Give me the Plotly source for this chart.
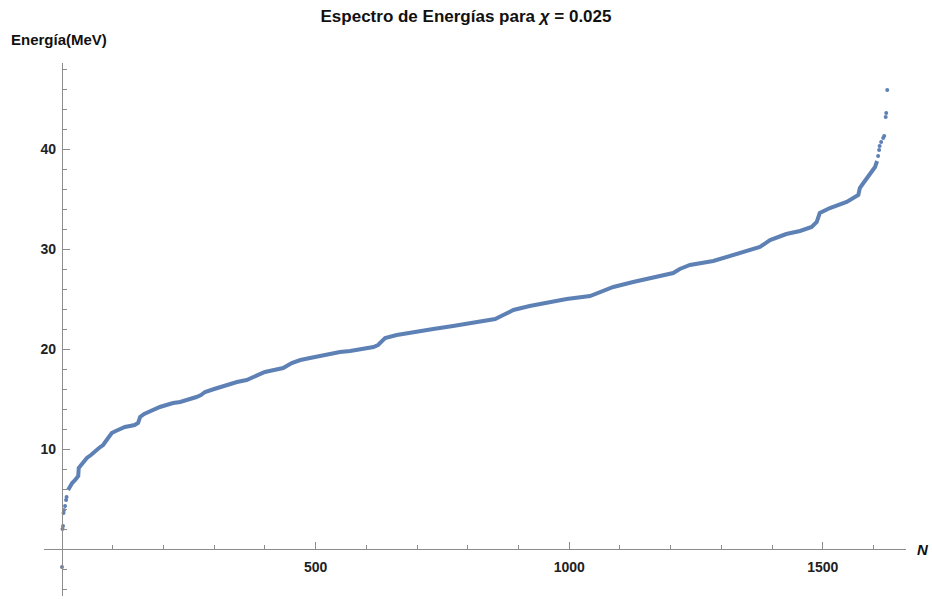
import plotly.graph_objects as go

# Energy levels (MeV) by level index N
start_n = [0, 1, 2, 3, 4, 6, 8, 9]
start_e = [-1.8, 2.0, 2.3, 3.6, 3.9, 4.3, 4.9, 5.2]

curve_n = [12, 16, 20, 26, 32, 33, 40, 49, 57, 65, 73, 81, 88, 93, 98, 106, 114, 124, 134,
           143, 150, 154, 162, 170, 182, 193, 206, 219, 233, 246, 256, 265, 274, 282, 300,
           325, 345, 364, 382, 400, 418, 436, 453, 470, 489, 508, 528, 548, 568, 590, 614,
           623, 630, 637, 660, 693, 732, 771, 811, 840, 854, 870, 890, 922, 955, 995, 1041,
           1057, 1087, 1126, 1166, 1205, 1218, 1238, 1284, 1310, 1336, 1356, 1376, 1396,
           1428, 1455, 1478, 1488, 1494, 1514, 1547, 1570, 1573, 1580, 1589, 1596, 1603, 1607]
curve_e = [5.9, 6.3, 6.6, 6.9, 7.3, 8.1, 8.6, 9.1, 9.4, 9.8, 10.1, 10.4, 10.9, 11.3, 11.6,
           11.8, 12.0, 12.2, 12.3, 12.4, 12.6, 13.2, 13.5, 13.7, 14.0, 14.2, 14.4, 14.6, 14.7,
           14.9, 15.0, 15.2, 15.4, 15.7, 16.0, 16.4, 16.7, 16.9, 17.3, 17.7, 17.9, 18.1, 18.6,
           18.9, 19.1, 19.3, 19.5, 19.7, 19.8, 20.0, 20.2, 20.4, 20.8, 21.1, 21.4, 21.7, 22.0,
           22.3, 22.6, 22.9, 23.0, 23.4, 23.9, 24.3, 24.6, 25.0, 25.3, 25.6, 26.2, 26.7, 27.2,
           27.6, 28.0, 28.4, 28.8, 29.2, 29.6, 29.9, 30.2, 30.9, 31.5, 31.8, 32.2, 32.7, 33.6,
           34.1, 34.7, 35.4, 36.1, 36.6, 37.2, 37.7, 38.2, 38.8]

tail_n = [1609, 1611, 1612, 1615, 1619, 1621, 1624, 1625, 1627]
tail_e = [39.3, 39.9, 40.3, 40.7, 41.1, 41.3, 43.2, 43.6, 45.9]

x_ticks = [500, 1000, 1500]
y_ticks = [10, 20, 30, 40]

x_range = [-35.5, 1664]
y_range = [-4.7, 48.6]

BLUE = "rgb(94,129,181)"
AXIS = "rgb(140,140,140)"
FONT = "Liberation Sans"

fig = go.Figure()
fig.add_trace(go.Scatter(x=curve_n, y=curve_e, mode="lines",
                         line=dict(color=BLUE, width=4), hoverinfo="x+y"))
fig.add_trace(go.Scatter(x=start_n + tail_n, y=start_e + tail_e, mode="markers",
                         marker=dict(color=BLUE, size=4), hoverinfo="x+y"))

# axes cross at the origin
x_pos = (0 - y_range[0]) / (y_range[1] - y_range[0])
y_pos = (0 - x_range[0]) / (x_range[1] - x_range[0])

fig.update_layout(
    width=932, height=599,
    margin=dict(l=44, r=26, t=63, b=3),
    paper_bgcolor="white", plot_bgcolor="white",
    showlegend=False,
    title=dict(text="Espectro de Energías para <i>χ</i> = 0.025", x=0.5, xref="container",
               xanchor="center", y=0.973, yanchor="middle",
               font=dict(family=FONT, size=17, color="#111", weight="bold")),
    xaxis=dict(range=x_range, anchor="free", position=x_pos, showgrid=False,
               zeroline=False, showline=True, linecolor=AXIS, linewidth=1.2,
               tickmode="array", tickvals=x_ticks, ticks="inside", ticklen=7,
               tickcolor=AXIS, tickwidth=1, ticklabelstandoff=5,
               minor=dict(ticks="inside", dtick=100, tick0=0, ticklen=4,
                          tickcolor=AXIS, showgrid=False),
               tickfont=dict(family=FONT, size=14, color="#222", weight="bold")),
    yaxis=dict(range=y_range, anchor="free", position=y_pos, showgrid=False,
               zeroline=False, showline=True, linecolor=AXIS, linewidth=1.2,
               tickmode="array", tickvals=y_ticks, ticks="inside", ticklen=7,
               tickcolor=AXIS, tickwidth=1, ticklabelstandoff=3,
               minor=dict(ticks="inside", dtick=2, tick0=0, ticklen=4,
                          tickcolor=AXIS, showgrid=False),
               tickfont=dict(family=FONT, size=14, color="#222", weight="bold")),
    annotations=[
        dict(text="Energía(MeV)", xref="paper", yref="paper", x=-0.041, y=1.045,
             xanchor="left", yanchor="middle", showarrow=False,
             font=dict(family=FONT, size=15, color="#111", weight="bold")),
        dict(text="<i>N</i>", xref="paper", yref="paper", x=1.01, y=x_pos,
             xanchor="left", yanchor="middle", showarrow=False,
             font=dict(family=FONT, size=15, color="#111", weight="bold")),
    ],
)

fig.write_html("out.html")
